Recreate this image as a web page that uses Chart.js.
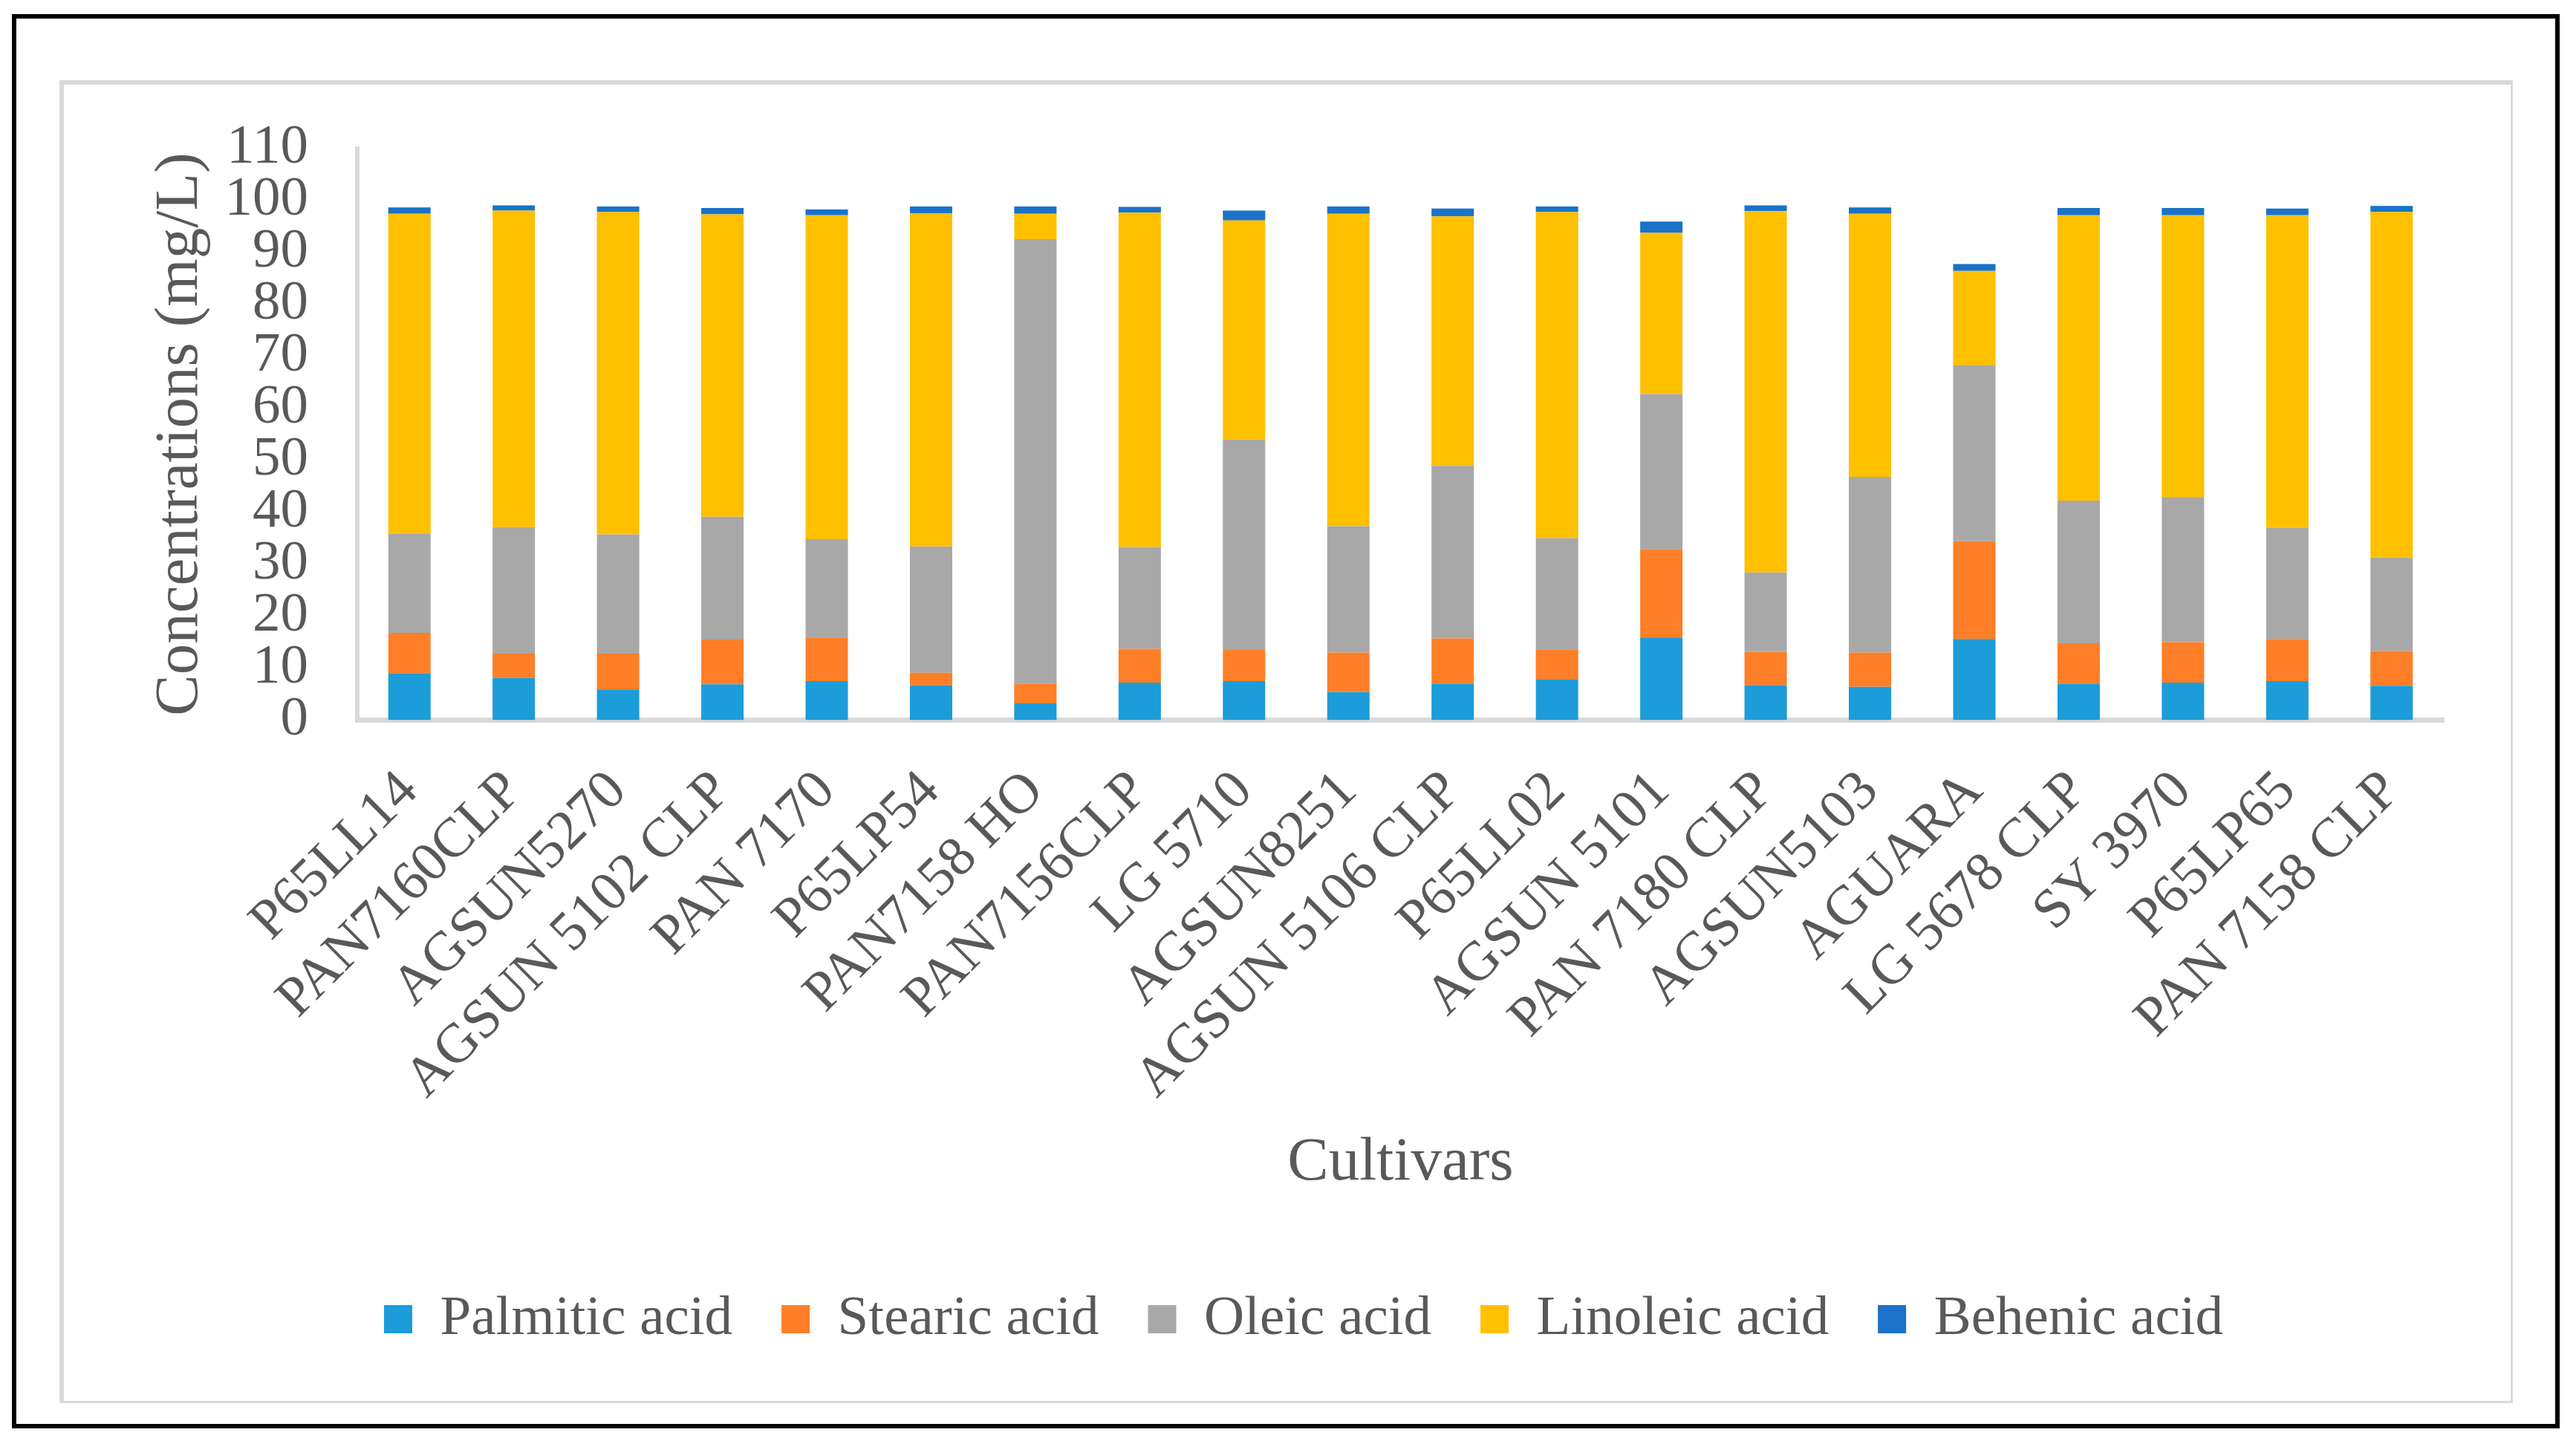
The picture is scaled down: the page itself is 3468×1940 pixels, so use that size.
<!DOCTYPE html>
<html>
<head>
<meta charset="utf-8">
<script src="https://cdn.jsdelivr.net/npm/chart.js@4.4.1/dist/chart.umd.min.js"></script>
<style>
  html, body { margin: 0; padding: 0; background: #fff; }
  body { width: 3468px; height: 1940px; position: relative; overflow: hidden; }
  #outer {
    position: absolute; left: 16px; top: 19px;
    width: 3418px; height: 1892px;
    border: 6px solid #000;
  }
  #inner {
    position: absolute; left: 80px; top: 108px;
    width: 3294px; height: 1772px;
    border-style: solid; border-color: #d9d9d9;
    border-width: 6px 3px 3px 6px;
  }
  #wrap { position: absolute; left: 0; top: 0; width: 3468px; height: 1940px; }
</style>
</head>
<body>
<div id="outer"></div>
<div id="inner"></div>
<div id="wrap"><canvas id="chart"></canvas></div>
<script>
const cultivars = ['P65LL14', 'PAN7160CLP', 'AGSUN5270', 'AGSUN 5102 CLP', 'PAN 7170', 'P65LP54',
  'PAN7158 HO', 'PAN7156CLP', 'LG 5710', 'AGSUN8251', 'AGSUN 5106 CLP', 'P65LL02', 'AGSUN 5101',
  'PAN 7180 CLP', 'AGSUN5103', 'AGUARA', 'LG 5678 CLP', 'SY 3970', 'P65LP65', 'PAN 7158 CLP'];

const palmitic = [9.0, 8.1, 5.9, 6.9, 7.5, 6.7, 3.2, 7.2, 7.5, 5.4, 7.0, 7.8, 15.9, 6.7, 6.4, 15.6, 7.0, 7.2, 7.5, 6.6];
const stearic  = [7.8, 4.7, 6.9, 8.6, 8.4, 2.4, 3.8, 6.5, 6.0, 7.6, 8.7, 5.8, 17.0, 6.4, 6.6, 18.8, 7.8, 7.8, 8.1, 6.7];
const oleic    = [19.1, 24.3, 22.9, 23.6, 18.9, 24.3, 85.5, 19.6, 40.5, 24.3, 33.2, 21.4, 29.8, 15.3, 33.8, 33.8, 27.4, 27.9, 21.4, 18.0];
const linoleic = [61.5, 60.9, 62.0, 58.2, 62.3, 64.1, 4.9, 64.3, 42.1, 60.1, 48.0, 62.7, 31.0, 69.5, 50.6, 18.2, 54.9, 54.2, 60.1, 66.5];
const behenic  = [1.2, 1.0, 1.1, 1.2, 1.1, 1.3, 1.4, 1.1, 1.9, 1.4, 1.5, 1.1, 2.2, 1.1, 1.2, 1.3, 1.4, 1.4, 1.3, 1.1];

const yTicks = [0, 10, 20, 30, 40, 50, 60, 70, 80, 90, 100, 110];

const serif = "'Liberation Serif', 'Times New Roman', serif";
const textColor = '#595959';
const axisColor = '#d9d9d9';

function bar(label, data, color) {
  return {
    label: label,
    data: data,
    backgroundColor: color,
    borderWidth: 0,
    categoryPercentage: 1,
    barPercentage: 0.406
  };
}

new Chart(document.getElementById('chart'), {
  type: 'bar',
  data: {
    labels: cultivars,
    datasets: [
      bar('Palmitic acid', palmitic, '#1c9cd8'),
      bar('Stearic acid', stearic, '#fe7f27'),
      bar('Oleic acid', oleic, '#a8a8a8'),
      bar('Linoleic acid', linoleic, '#ffc000'),
      bar('Behenic acid', behenic, '#1a73c8')
    ]
  },
  options: {
    responsive: true,
    maintainAspectRatio: false,
    animation: false,
    layout: { padding: { left: 220, right: 178, top: 199.5, bottom: 116.5 } },
    plugins: {
      tooltip: { enabled: false },
      legend: {
        position: 'bottom',
        labels: {
          font: { family: serif, size: 75 },
          color: textColor,
          boxWidth: 38,
          boxHeight: 38,
          padding: 66
        }
      }
    },
    scales: {
      x: {
        stacked: true,
        grid: { display: false, drawTicks: false },
        border: { display: true, color: axisColor, width: 7 },
        ticks: {
          font: { family: serif, size: 75 },
          color: textColor,
          minRotation: 45,
          maxRotation: 45,
          autoSkip: false,
          padding: 52
        },
        title: {
          display: true,
          text: 'Cultivars',
          font: { family: serif, size: 83 },
          color: textColor,
          padding: { top: 0, bottom: 56 }
        },
        afterFit: (scale) => {
          scale.height = 703;
          scale.paddingLeft = 0;
          scale.paddingRight = 0;
        }
      },
      y: {
        stacked: true,
        min: 0,
        max: 110,
        grid: { display: false, drawTicks: false },
        border: { display: true, color: axisColor, width: 6 },
        afterBuildTicks: (scale) => { scale.ticks = yTicks.map(v => ({ value: v })); },
        ticks: {
          font: { family: serif, size: 75 },
          color: textColor,
          autoSkip: false,
          padding: 66
        },
        title: {
          display: true,
          text: 'Concentrations (mg/L)',
          font: { family: serif, size: 83, lineHeight: 0.5 },
          color: textColor,
          padding: { top: 2, bottom: 0 }
        },
        afterFit: (scale) => {
          scale.width = 261;
          scale.paddingTop = 0;
          scale.paddingBottom = 0;
        }
      }
    }
  }
});
</script>
</body>
</html>
